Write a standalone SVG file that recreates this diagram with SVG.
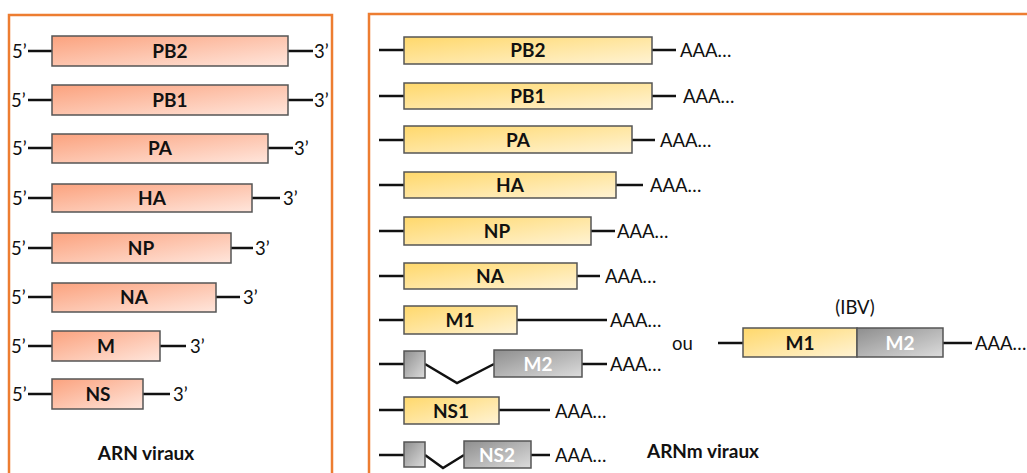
<svg xmlns="http://www.w3.org/2000/svg" width="1027" height="473" viewBox="0 0 1027 473">
<defs>
<linearGradient id="gs" x1="0" y1="0" x2="1" y2="1"><stop offset="0" stop-color="#FBA27E"/><stop offset="1" stop-color="#FFE6DC"/></linearGradient>
<linearGradient id="gy" x1="0" y1="0" x2="1" y2="1"><stop offset="0" stop-color="#FFD86B"/><stop offset="1" stop-color="#FFF3D4"/></linearGradient>
<linearGradient id="gg" x1="0" y1="0" x2="1" y2="1"><stop offset="0" stop-color="#8E8E8E"/><stop offset="1" stop-color="#DCDCDC"/></linearGradient>
<style>
.panel{fill:none;stroke:#ED7D31;stroke-width:2.5}
.s{fill:url(#gs);stroke:#555;stroke-width:1.5}
.y{fill:url(#gy);stroke:#555;stroke-width:1.5}
.g{fill:url(#gg);stroke:#555;stroke-width:1.5}
.ln{stroke:#111;stroke-width:2.5;fill:none}
.lb{font-family:Lato,"Liberation Sans",sans-serif;font-weight:bold;font-size:19px;fill:#111;text-anchor:middle}
.lw{font-family:Lato,"Liberation Sans",sans-serif;font-weight:bold;font-size:19px;fill:#fff;text-anchor:middle}
.t{font-family:Lato,"Liberation Sans",sans-serif;font-size:18.5px;fill:#111}
</style>
</defs>
<rect class="panel" x="9" y="15" width="323" height="470"/>
<rect class="panel" x="369" y="14" width="670" height="470"/>
<g id="connectors">
<path class="ln" d="M28 51H52M288 51H313M28 100H52M288 100H313M28 148H52M268 148H293M28 198H52M252 198H280M28 248H52M231 248H253M28 297H52M216 297H240M28 346H52M160 346H186M28 394H52M143 394H170"/>
<path class="ln" d="M379 50H404M652 50H676M379 96H404M652 96H676M379 140H404M632 140H655M379 185H404M616 185H643M379 231H404M591 231H615M379 276H404M577 276H600M379 320H404M517 320H607M379 364H404M425 364L457 383L494 364M582 364H607M379 410H404M499 410H550M379 455H404M425 455L443 468L464 455M531 455H550M718 343H743M943 343H972"/>
</g>
<g id="PB2v"><rect class="s" x="52" y="36" width="236" height="30"/><text class="lb" x="170" y="58">PB2</text><text class="t" x="12" y="58">5’</text><text class="t" x="314" y="58">3’</text></g>
<g id="PB1v"><rect class="s" x="52" y="85" width="236" height="30"/><text class="lb" x="170" y="107">PB1</text><text class="t" x="11" y="107">5’</text><text class="t" x="314" y="107">3’</text></g>
<g id="PAv"><rect class="s" x="52" y="134" width="216" height="29"/><text class="lb" x="160" y="155">PA</text><text class="t" x="12" y="155">5’</text><text class="t" x="294" y="155">3’</text></g>
<g id="HAv"><rect class="s" x="52" y="184" width="200" height="28"/><text class="lb" x="152" y="205">HA</text><text class="t" x="12" y="205">5’</text><text class="t" x="283" y="205">3’</text></g>
<g id="NPv"><rect class="s" x="52" y="233" width="179" height="30"/><text class="lb" x="141" y="255">NP</text><text class="t" x="11" y="255">5’</text><text class="t" x="255" y="255">3’</text></g>
<g id="NAv"><rect class="s" x="52" y="283" width="164" height="29"/><text class="lb" x="134" y="304">NA</text><text class="t" x="11" y="304">5’</text><text class="t" x="243" y="304">3’</text></g>
<g id="Mv"><rect class="s" x="52" y="331" width="108" height="30"/><text class="lb" x="106" y="353">M</text><text class="t" x="11" y="353">5’</text><text class="t" x="190" y="353">3’</text></g>
<g id="NSv"><rect class="s" x="52" y="379" width="91" height="30"/><text class="lb" x="98" y="401">NS</text><text class="t" x="12" y="401">5’</text><text class="t" x="173" y="401">3’</text></g>
<g id="title1"><text class="lb" x="146" y="460" font-size="17.5">ARN viraux</text></g>
<g id="PB2m"><rect class="y" x="404" y="37" width="248" height="27"/><text class="lb" x="528" y="57">PB2</text><text class="t" x="680" y="57">AAA…</text></g>
<g id="PB1m"><rect class="y" x="404" y="83" width="248" height="26"/><text class="lb" x="528" y="103">PB1</text><text class="t" x="683" y="103">AAA…</text></g>
<g id="PAm"><rect class="y" x="404" y="126" width="228" height="27"/><text class="lb" x="518" y="147">PA</text><text class="t" x="660" y="147">AAA…</text></g>
<g id="HAm"><rect class="y" x="404" y="172" width="212" height="26"/><text class="lb" x="510" y="192">HA</text><text class="t" x="650" y="192">AAA…</text></g>
<g id="NPm"><rect class="y" x="404" y="217" width="187" height="28"/><text class="lb" x="497" y="238">NP</text><text class="t" x="617" y="238">AAA…</text></g>
<g id="NAm"><rect class="y" x="404" y="263" width="173" height="26"/><text class="lb" x="490" y="283">NA</text><text class="t" x="605" y="283">AAA…</text></g>
<g id="M1m"><rect class="y" x="404" y="306" width="113" height="28"/><text class="lb" x="460" y="327">M1</text><text class="t" x="610" y="327">AAA…</text></g>
<g id="M2m"><rect class="g" x="404" y="351" width="21" height="27"/><rect class="g" x="494" y="350" width="88" height="27"/><text class="lw" x="538" y="371">M2</text><text class="t" x="610" y="371">AAA…</text></g>
<g id="NS1m"><rect class="y" x="404" y="397" width="95" height="27"/><text class="lb" x="451" y="418">NS1</text><text class="t" x="555" y="418">AAA…</text></g>
<g id="NS2m"><rect class="g" x="404" y="442" width="21" height="25"/><rect class="g" x="464" y="441" width="67" height="27"/><text class="lw" x="497" y="462">NS2</text><text class="t" x="555" y="462">AAA…</text></g>
<g id="ou"><text class="t" x="672" y="350">ou</text></g>
<g id="IBV"><text class="t" x="855" y="314" text-anchor="middle">(IBV)</text><rect class="y" x="743" y="328" width="114" height="29"/><text class="lb" x="800" y="350">M1</text><rect class="g" x="857" y="328" width="86" height="29"/><text class="lw" x="900" y="350">M2</text><text class="t" x="975" y="350">AAA…</text></g>
<g id="title2"><text class="lb" x="703" y="458" font-size="17.5">ARNm viraux</text></g>
</svg>
